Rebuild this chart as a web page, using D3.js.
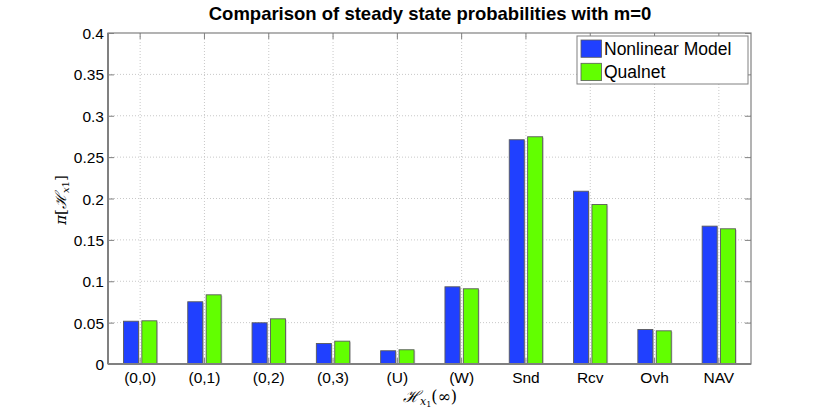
<!DOCTYPE html>
<html>
<head>
<meta charset="utf-8">
<style>
  body { margin: 0; background: #fff; }
  svg text { font-family: "Liberation Sans", Arial, sans-serif; }
</style>
</head>
<body>
<div class="chart"></div>
<script src="https://cdn.jsdelivr.net/npm/d3@7"></script>
<script>
    // data
    var categories = ['(0,0)', '(0,1)', '(0,2)', '(0,3)', '(U)', '(W)', 'Snd', 'Rcv', 'Ovh', 'NAV'];
    var nonlinearModel = [0.0517, 0.0752, 0.0498, 0.0248, 0.0160, 0.0933, 0.2710, 0.2088, 0.0417, 0.1666];
    var qualnet = [0.0522, 0.0836, 0.0546, 0.0276, 0.0172, 0.0909, 0.2746, 0.1928, 0.0401, 0.1634];
    var seriesNames = ['Nonlinear Model', 'Qualnet'];
    var seriesColors = ['#2040ff', '#62ff00'];
    var yTicks = [0, 0.05, 0.1, 0.15, 0.2, 0.25, 0.3, 0.35, 0.4];

    var W = 830, H = 409;
    var margin = {top: 33, right: 79, bottom: 45, left: 108};
    var width = W - margin.left - margin.right;
    var height = H - margin.top - margin.bottom;

    var svg = d3.select('.chart').append('svg')
            .attr('width', W)
            .attr('height', H);

    var g = svg.append('g')
            .attr('transform', 'translate(' + margin.left + ',' + margin.top + ')');

    var x = d3.scaleBand()
            .domain(categories)
            .range([0, width]);

    var y = d3.scaleLinear()
            .domain([0, 0.4])
            .range([height, 0]);

    var frameColor = '#808080';

    // dotted grid
    g.append('g').selectAll('line.gx').data(categories).enter()
            .append('line')
            .attr('x1', function (d) { return x(d) + x.bandwidth() / 2; })
            .attr('x2', function (d) { return x(d) + x.bandwidth() / 2; })
            .attr('y1', 0).attr('y2', height)
            .style('stroke', '#c8c8c8')
            .style('stroke-dasharray', '1,2');

    g.append('g').selectAll('line.gy').data(yTicks.slice(1, -1)).enter()
            .append('line')
            .attr('x1', 0).attr('x2', width)
            .attr('y1', function (d) { return y(d); })
            .attr('y2', function (d) { return y(d); })
            .style('stroke', '#c8c8c8')
            .style('stroke-dasharray', '1,2');

    // bars
    var barW = 15, off = 9.2;
    var series = [nonlinearModel, qualnet];
    series.forEach(function (vals, si) {
        var cx = function (d, i) { return x(categories[i]) + x.bandwidth() / 2 + (si === 0 ? -off : off); };
        // faint shadow
        g.append('g').selectAll('rect').data(vals).enter()
                .append('rect')
                .attr('x', function (d, i) { return cx(d, i) - barW / 2 + 1.2; })
                .attr('y', function (d) { return y(d) + 1; })
                .attr('width', barW)
                .attr('height', function (d) { return height - y(d) - 1; })
                .style('fill', '#cfcfcf');
        g.append('g').selectAll('rect').data(vals).enter()
                .append('rect')
                .attr('x', function (d, i) { return cx(d, i) - barW / 2; })
                .attr('y', function (d) { return y(d); })
                .attr('width', barW)
                .attr('height', function (d) { return height - y(d); })
                .style('fill', seriesColors[si])
                .style('stroke', '#5a5a5a')
                .style('stroke-width', 0.9);
    });

    // axes
    var yAxis = d3.axisLeft(y).tickValues(yTicks).tickSize(-6).tickPadding(4)
            .tickFormat(function (d) { return d === 0 ? '0' : d3.format('')(+d.toFixed(2)); });
    var yAxisR = d3.axisRight(y).tickValues(yTicks).tickSize(-6).tickFormat('');
    var xAxis = d3.axisBottom(x).tickSize(-6).tickPadding(8);
    var xAxisT = d3.axisTop(x).tickSize(-6).tickFormat('');

    var gy = g.append('g').call(yAxis);
    g.append('g').attr('transform', 'translate(' + width + ',0)').call(yAxisR);
    var gx = g.append('g').attr('transform', 'translate(0,' + height + ')').call(xAxis);
    g.append('g').call(xAxisT);

    g.selectAll('.domain').remove();
    g.selectAll('.tick line').style('stroke', frameColor);
    g.selectAll('.tick text').style('font-family', '"Liberation Sans", Arial, sans-serif')
            .style('font-size', '15.5px').style('fill', '#000');
    gy.selectAll('.tick text').attr('dy', '0.36em');

    g.append('rect')
            .attr('width', width).attr('height', height)
            .style('fill', 'none')
            .style('stroke', frameColor)
            .style('stroke-width', 1.2);
    g.append('line')
            .attr('x1', 0).attr('x2', 0).attr('y1', 0).attr('y2', height)
            .style('stroke', frameColor).style('stroke-width', 2);
    g.append('line')
            .attr('x1', 0).attr('x2', width).attr('y1', height).attr('y2', height)
            .style('stroke', frameColor).style('stroke-width', 2);

    // title
    svg.append('text')
            .attr('x', 430).attr('y', 20)
            .attr('text-anchor', 'middle')
            .style('font-weight', 'bold')
            .style('font-size', '18.5px')
            .text('Comparison of steady state probabilities with m=0');

    // x label: H_{x_1}(inf)
    var xl = svg.append('text')
            .attr('x', 430).attr('y', 402)
            .attr('text-anchor', 'middle')
            .style('font-family', '"DejaVu Serif", serif')
            .style('font-size', '16px');
    xl.append('tspan').style('font-style', 'italic').text('\u210B');
    xl.append('tspan').attr('dy', 3).style('font-size', '11px').style('font-style', 'italic').text('x');
    xl.append('tspan').attr('dy', 2).style('font-size', '8px').text('1');
    xl.append('tspan').attr('dy', -5).text('(\u221E)');

    // y label: pi[H_{x1}]
    var yl = svg.append('text')
            .attr('transform', 'translate(66,200) rotate(-90)')
            .attr('text-anchor', 'middle')
            .style('font-family', '"DejaVu Serif", serif')
            .style('font-size', '15px');
    yl.append('tspan').style('font-style', 'italic').text('\u03C0');
    yl.append('tspan').text('[');
    yl.append('tspan').style('font-style', 'italic').text('\u210B');
    yl.append('tspan').attr('dy', 3).style('font-size', '10px').style('font-style', 'italic').text('x');
    yl.append('tspan').style('font-size', '10px').text('1');
    yl.append('tspan').attr('dy', -3).text(']');

    // legend
    var lg = svg.append('g').attr('transform', 'translate(577,36)');
    lg.append('rect')
            .attr('width', 171).attr('height', 48)
            .style('fill', '#fff')
            .style('stroke', frameColor)
            .style('stroke-width', 1);
    seriesNames.forEach(function (name, i) {
        lg.append('rect')
                .attr('x', 4).attr('y', 4 + i * 23.3)
                .attr('width', 20.5).attr('height', 17.3)
                .style('fill', seriesColors[i])
                .style('stroke', '#5a5a5a')
                .style('stroke-width', 0.8);
        lg.append('text')
                .attr('x', 27).attr('y', 19 + i * 23.3)
                .style('font-size', '17.5px')
                .text(name);
    });
</script>
</body>
</html>
